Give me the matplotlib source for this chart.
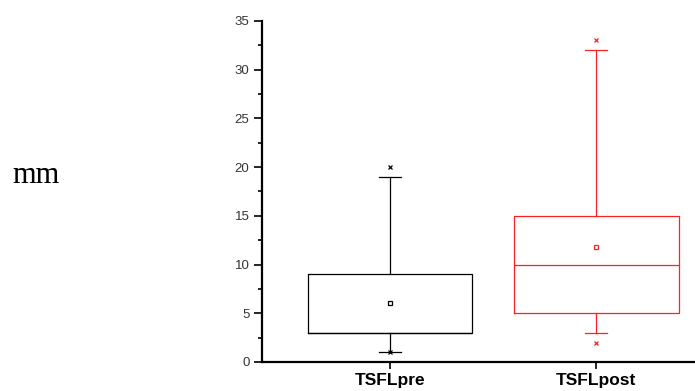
import matplotlib
matplotlib.use("Agg")
import matplotlib.pyplot as plt
from matplotlib.ticker import MultipleLocator

categories = ["TSFLpre", "TSFLpost"]
q1 = [3, 5]
median = [3, 10]
q3 = [9, 15]
whisker_low = [1, 3]
whisker_high = [19, 32]
means = [6.1, 11.8]
minimum = [1, 2]
maximum = [20, 33]
colors = ["#000000", "#ff2020"]
yticks = [0, 5, 10, 15, 20, 25, 30, 35]

fig = plt.figure(figsize=(6.95, 3.91), dpi=100)
ax = fig.add_axes([262/695, 1-362/391, 1-262/695, (362-21)/391])

positions = [1, 2]
for i, cat in enumerate(categories):
    st = dict(label=cat, q1=q1[i], med=median[i], q3=q3[i],
              whislo=whisker_low[i], whishi=whisker_high[i],
              mean=means[i], fliers=[minimum[i], maximum[i]])
    c = colors[i]
    ax.bxp([st], positions=[positions[i]], widths=0.8, showmeans=True,
           showfliers=True,
           boxprops=dict(color=c, linewidth=0.9),
           medianprops=dict(color=c, linewidth=0.9),
           whiskerprops=dict(color=c, linewidth=0.9),
           capprops=dict(color=c, linewidth=0.9),
           capwidths=0.105,
           meanprops=dict(marker="s", markersize=3.5, markerfacecolor="white",
                          markeredgecolor=c, markeredgewidth=0.9),
           flierprops=dict(marker="x", markersize=3.5, markeredgecolor=c,
                           markeredgewidth=0.9, linestyle="none"))

ax.set_xlim(0.379, 2.48)
ax.set_ylim(0, 35)
ax.set_xticks(positions)
ax.set_xticklabels(categories, fontsize=12.5, fontweight="bold",
                   family="Liberation Sans")
ax.set_yticks(yticks)
ax.set_yticklabels([str(v) for v in yticks], fontsize=9.5,
                   family="Liberation Sans", color="#333333")
ax.yaxis.set_minor_locator(MultipleLocator(2.5))
ax.tick_params(axis="y", which="major", length=6, width=1.2, pad=3)
ax.tick_params(axis="y", which="minor", length=3, width=1.2)
ax.tick_params(axis="x", which="major", length=5, width=1.2, pad=3)
for s in ["top", "right"]:
    ax.spines[s].set_visible(False)
for s in ["left", "bottom"]:
    ax.spines[s].set_linewidth(1.6)

fig.text(36/695, 1-175/391, "mm", fontsize=22, family="Liberation Serif",
         ha="center", va="center")

fig.savefig("out.png", dpi=100)
